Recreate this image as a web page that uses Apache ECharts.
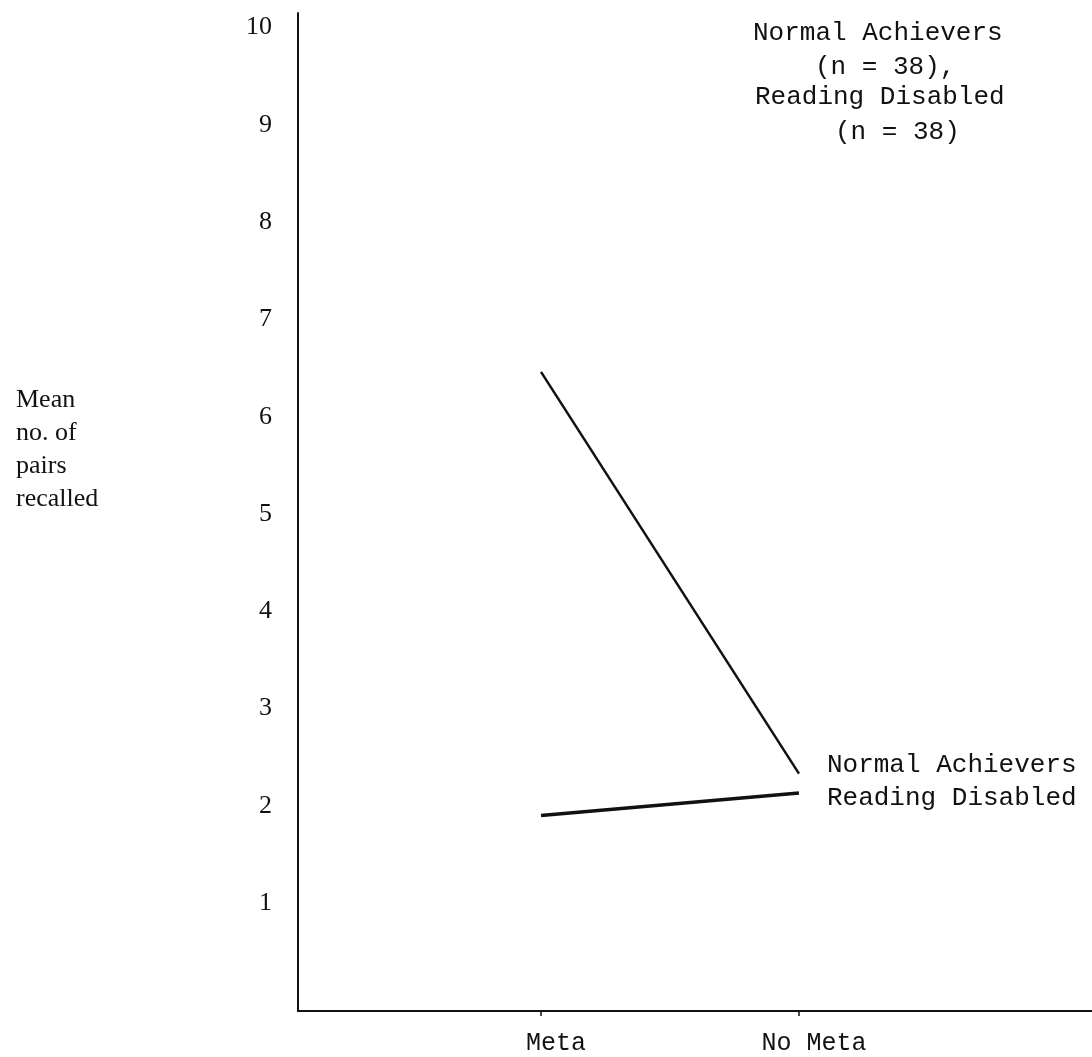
<!DOCTYPE html>
<html>
<head>
<meta charset="utf-8">
<script src="https://cdn.jsdelivr.net/npm/echarts@6/dist/echarts.min.js"></script>
<style>
  html, body { margin: 0; padding: 0; background: #ffffff; }
  #chart { width: 1092px; height: 1057px; }
</style>
</head>
<body>
<div id="chart"></div>
<script>
// ---- data ----
const categories = ['Meta', 'No Meta'];
const categoryPositions = [1, 2];
const normalAchievers = [6.46, 2.33];
const readingDisabled = [1.90, 2.13];
const yTicks = [1, 2, 3, 4, 5, 6, 7, 8, 9, 10];
const seriesNames = ['Normal Achievers', 'Reading Disabled'];
const yAxisTitle = ['Mean', 'no. of', 'pairs', 'recalled'];
const noteLines = ['Normal Achievers', '(n = 38),', 'Reading Disabled', '(n = 38)'];

const mono = '"Liberation Mono", "DejaVu Sans Mono", monospace';
const serif = '"Liberation Serif", "DejaVu Serif", serif';
const ink = '#111111';

function pairs(vals) {
  return vals.map((v, i) => [categoryPositions[i], v]);
}

const chart = echarts.init(document.getElementById('chart'), null, { renderer: 'canvas' });

const noteX = [753, 815, 755, 835];
const noteY = [33, 67, 97, 132];

chart.setOption({
  backgroundColor: '#ffffff',
  animation: false,
  grid: { left: 298, right: 0, top: 13, bottom: 46, containLabel: false },
  xAxis: {
    type: 'value',
    min: 0.058,
    max: 3.136,
    axisLine: { show: true, onZero: false, lineStyle: { color: ink, width: 2 } },
    axisTick: { show: true, customValues: categoryPositions, length: 5, lineStyle: { color: ink, width: 1.5 } },
    axisLabel: {
      customValues: categoryPositions,
      formatter: v => categories[Math.round(v) - 1] || '',
      fontFamily: mono,
      fontSize: 25,
      color: ink,
      margin: 20,
      padding: [0, 0, 0, 30]
    },
    splitLine: { show: false }
  },
  yAxis: {
    type: 'value',
    min: -0.11,
    max: 10.15,
    axisLine: { show: true, onZero: false, lineStyle: { color: ink, width: 2 } },
    axisTick: { show: false },
    axisLabel: {
      customValues: yTicks,
      formatter: v => String(v),
      fontFamily: serif,
      fontSize: 26,
      color: ink,
      margin: 26
    },
    splitLine: { show: false }
  },
  graphic: [
    {
      type: 'text',
      left: 16,
      top: 384,
      style: {
        text: yAxisTitle.join('\n'),
        font: '26px ' + serif,
        lineHeight: 33,
        fill: ink
      }
    }
  ].concat(noteLines.map((t, i) => ({
    type: 'text',
    x: noteX[i],
    y: noteY[i],
    style: {
      text: t,
      font: '26px ' + mono,
      fill: ink,
      textVerticalAlign: 'middle',
      textAlign: 'left'
    }
  }))),
  series: [
    {
      name: seriesNames[0],
      type: 'line',
      data: pairs(normalAchievers),
      symbol: 'none',
      lineStyle: { color: ink, width: 2.5 },
      endLabel: {
        show: true,
        formatter: seriesNames[0],
        fontFamily: mono,
        fontSize: 26,
        color: ink,
        distance: 28,
        offset: [0, -9]
      }
    },
    {
      name: seriesNames[1],
      type: 'line',
      data: pairs(readingDisabled),
      symbol: 'none',
      lineStyle: { color: ink, width: 3.5 },
      endLabel: {
        show: true,
        formatter: seriesNames[1],
        fontFamily: mono,
        fontSize: 26,
        color: ink,
        distance: 28,
        offset: [0, 5]
      }
    }
  ]
});
</script>
</body>
</html>
